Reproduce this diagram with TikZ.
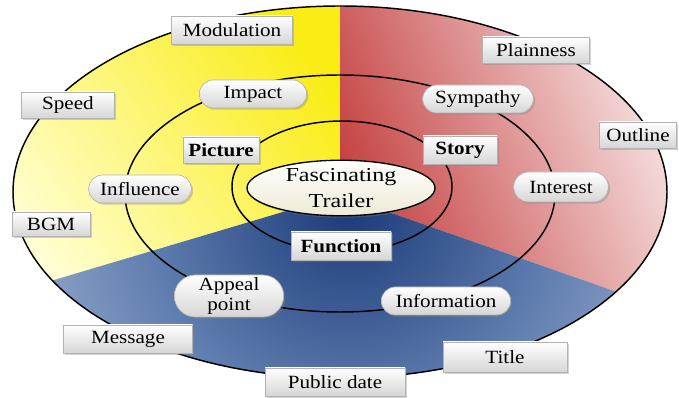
\documentclass[tikz,border=0pt]{standalone}
\usepackage{fontspec}
\setmainfont{Liberation Serif}[FakeStretch=1.13]
\newfontfamily\ctrfont{Liberation Serif}[FakeStretch=1.22]
\usetikzlibrary{shapes.misc,shapes.geometric,shadows}
\definecolor{ylwA}{RGB}{250,236,20}
\definecolor{ylwB}{RGB}{255,255,215}
\definecolor{redA}{RGB}{196,62,62}
\definecolor{redB}{RGB}{252,242,242}
\definecolor{bluA}{RGB}{28,58,120}
\definecolor{bluM}{RGB}{95,125,175}
\definecolor{bluB}{RGB}{228,233,242}
\definecolor{lblB}{RGB}{214,214,214}
\definecolor{ctrB}{RGB}{238,234,214}
\pgfdeclareradialshading{bluesh}{\pgfpoint{0bp}{0bp}}{color(0bp)=(bluA); color(9bp)=(bluM); color(25bp)=(bluB); color(50bp)=(bluB)}
\begin{document}
\begin{tikzpicture}[x=0.75pt,y=-0.75pt,
  lbl/.style={draw=gray!60, line width=0.5pt, top color=white, bottom color=lblB,
    drop shadow={shadow xshift=1.3pt,shadow yshift=-1.3pt,opacity=0.35},
    font=\fontsize{14}{15}\selectfont, inner sep=1pt},
  boxlbl/.style={lbl, rectangle},
  pill/.style={lbl, rounded rectangle},
  ring/.style={line width=1.1pt, black}]
\useasboundingbox (0,0) rectangle (679,398);
\coordinate (pc) at (340,195);
\begin{scope}
  \clip (340,192) ellipse (327 and 186);
  \shade[top color=ylwA, bottom color=ylwB, shading angle=-55]
    (pc) -- (340,-20) -- (-20,-20) -- (-20,302) -- cycle;
  \shade[top color=redB, bottom color=redA, shading angle=-68]
    (pc) -- (340,-20) -- (700,-20) -- (700,321) -- cycle;
  \begin{scope}
    \clip (pc) -- (-20,302) -- (-20,420) -- (700,420) -- (700,321) -- cycle;
    \shade[shading=bluesh] (350,210) circle (560);
  \end{scope}
\end{scope}
\draw[ring] (340,192) ellipse (327 and 186);
\draw[ring] (340,193.5) ellipse (215 and 118.5);
\draw[ring] (342,186.5) ellipse (110 and 65.5);

\node[ellipse, draw, line width=1pt, top color=white, bottom color=ctrB,
  drop shadow={shadow xshift=1pt,shadow yshift=-1.5pt,opacity=0.3},
  minimum width=141pt, minimum height=37.5pt, inner sep=0pt, align=center,
  font=\ctrfont\fontsize{14.8}{19.5}\selectfont] (ctr) at (341,188) {Fascinating\\Trailer};

\node[boxlbl, minimum width=90.75pt, minimum height=21pt] (modulation) at (232,30) {Modulation};
\node[boxlbl, minimum width=70pt, minimum height=19.5pt] (speed) at (68,105) {Speed};
\node[boxlbl, minimum width=57pt, minimum height=19.5pt, font=\fontsize{14}{15}\selectfont\bfseries] (picture) at (221,150) {Picture};
\node[boxlbl, minimum width=80pt, minimum height=19.5pt] (plainness) at (536,50) {Plainness};
\node[boxlbl, minimum width=55.5pt, minimum height=21pt, font=\fontsize{14}{15}\selectfont\bfseries] (story) at (460,150) {Story};
\node[boxlbl, minimum width=58pt, minimum height=19.5pt] (outline) at (638,135) {Outline};
\node[boxlbl, minimum width=58.5pt, minimum height=18pt] (bgm) at (51,224) {BGM};
\node[boxlbl, minimum width=97pt, minimum height=21pt] (message) at (128,339) {Message};
\node[boxlbl, minimum width=105pt, minimum height=21pt] (public) at (335,382) {Public date};
\node[boxlbl, minimum width=75pt, minimum height=21pt, font=\fontsize{14}{15}\selectfont\bfseries] (function) at (341,246) {Function};
\node[boxlbl, minimum width=93pt, minimum height=22.5pt] (title) at (505,357) {Title};

\node[pill, minimum width=82.5pt, minimum height=21pt] (impact) at (253,94) {Impact};
\node[pill, minimum width=79pt, minimum height=21pt] (influence) at (140,189) {Influence};
\node[pill, minimum width=85pt, minimum height=21pt] (sympathy) at (478,99) {Sympathy};
\node[pill, minimum width=73pt, minimum height=22.5pt] (interest) at (561,187) {Interest};
\node[pill, minimum width=84pt, minimum height=31.5pt, align=center] (appeal) at (229,296) {Appeal\\point};
\node[pill, minimum width=99pt, minimum height=21pt] (information) at (446,301) {Information};
\end{tikzpicture}
\end{document}
